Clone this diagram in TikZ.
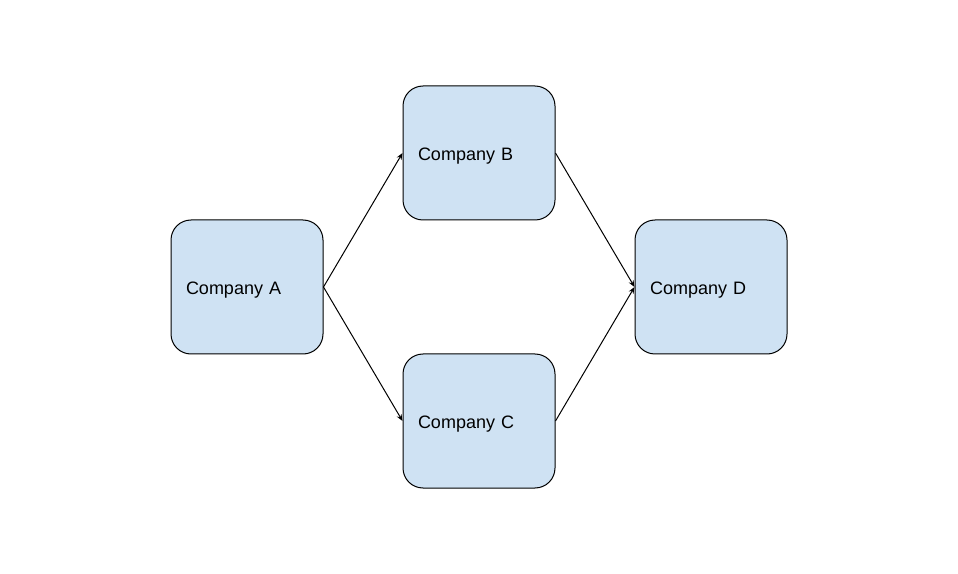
\documentclass[tikz,border=0pt]{standalone}
\usepackage{fontspec}
\setmainfont{Liberation Sans}
\usetikzlibrary{arrows.meta}
\definecolor{boxfill}{HTML}{CFE2F3}
\begin{document}
\begin{tikzpicture}[x=0.75pt,y=-0.75pt,
  company/.style={draw=black, line width=0.75pt, fill=boxfill, rounded corners=15pt,
    minimum width=114pt, minimum height=100.5pt, inner xsep=11.25pt, text width=91.5pt,
    text height=14pt, text depth=2.5pt,
    align=left, font=\fontsize{13.5pt}{16pt}\selectfont},
  link/.style={line width=0.75pt, -{Stealth[length=5pt,width=4pt]}}]
\useasboundingbox (0,0) rectangle (958,574);
\node[company] (A) at (247,287) {Company A};
\node[company] (B) at (479,153) {Company B};
\node[company] (C) at (479,421) {Company C};
\node[company] (D) at (711,287) {Company D};
\draw[link] (A.east) -- (B.west);
\draw[link] (A.east) -- (C.west);
\draw[link] (B.east) -- (D.west);
\draw[link] (C.east) -- (D.west);
\end{tikzpicture}
\end{document}
